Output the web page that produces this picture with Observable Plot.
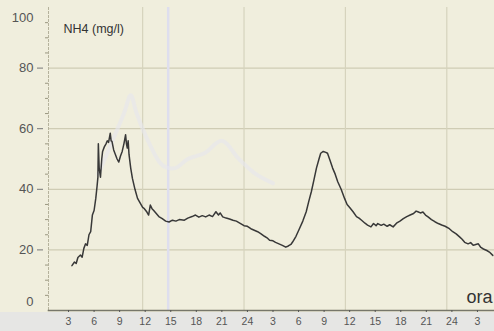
<!DOCTYPE html>
<html>
<head>
<meta charset="utf-8">
<script src="https://cdn.jsdelivr.net/npm/d3@7"></script>
<script src="https://cdn.jsdelivr.net/npm/@observablehq/plot@0.6"></script>
<style>
  html, body { margin: 0; padding: 0; }
  body { width: 494px; height: 331px; overflow: hidden;
    background: linear-gradient(to bottom, #f0eedd 0, #f0eedd 312px, #e6e6e4 312px); }
  svg { display: block; }
</style>
</head>
<body>
<div id="chart"></div>
<script>
// Hours elapsed since midnight of day 1, and NH4 concentration (mg/l)
const hours = [3.4,3.7,3.9,4.1,4.4,4.6,4.8,5.0,5.2,5.4,5.6,5.8,6.0,6.2,6.35,6.45,6.5,6.6,6.75,6.9,7.0,7.2,7.4,7.55,7.7,7.9,8.0,8.1,8.3,8.5,8.7,8.9,9.1,9.3,9.5,9.7,9.8,9.9,10.0,10.1,10.3,10.5,10.8,11.1,11.4,11.7,11.9,12.2,12.4,12.6,12.8,13.0,13.3,13.6,14.0,14.4,14.8,15.2,15.6,16.0,16.6,17.0,17.5,17.9,18.3,18.7,19.1,19.5,19.9,20.3,20.6,20.8,21.1,21.5,21.9,22.3,22.7,23.2,23.6,24.0,24.4,24.8,25.2,25.6,26.0,26.3,26.6,27.0,27.3,27.7,28.1,28.5,28.8,29.1,29.3,29.7,30.1,30.5,30.9,31.2,31.5,31.8,32.1,32.4,32.6,32.9,33.2,33.4,33.7,34.0,34.3,34.6,35.0,35.4,35.7,36.0,36.4,36.8,37.1,37.4,37.8,38.1,38.5,38.8,39.1,39.3,39.7,40.0,40.4,40.7,41.1,41.5,41.9,42.3,42.7,43.1,43.5,43.8,44.0,44.3,44.6,44.9,45.2,45.6,46.0,46.4,46.8,47.2,47.7,48.1,48.5,48.9,49.2,49.5,49.9,50.2,50.5,50.8,51.1,51.4,51.7,52.1,52.4,52.8];
const nh4 = [14.8,16.0,15.5,17.5,18.3,17.6,20.5,22,21.5,25,26,31.5,33,37,41,44,55,47,44,50,52.5,54,55,56,55.5,58.5,56,55.8,53,51.5,50,49,51,52.5,55,58,55,53.6,56,51.5,47,43.6,40,37,35.5,34,33.6,32.5,31.5,34.8,33.6,33,32,31,30.3,29.5,29.2,29.8,29.5,30,29.8,30.5,31,31.5,30.8,31.3,30.9,31.5,31,32.6,31.5,32.2,30.9,30.5,30.2,29.8,29.5,28.7,28,27.8,27,26.5,26,25.3,24.5,24,23.2,23,22.5,22,21.5,20.9,21.3,21.8,22.6,24.5,27,29.5,32.6,36,39.2,43,47,50,51.9,52.5,52.2,51.9,49.5,47,45,42.5,40,37,35,34,32.6,31,30.5,29.8,28.8,28.2,27.6,28.7,28,28.7,28.1,28.5,27.8,28.3,27.6,28.8,29.5,30.3,31,31.5,32,32.8,32.6,32.2,32.5,31.5,30.9,30,29.3,28.7,28.2,27.8,27,26,25.3,24.3,23.5,22.5,22,22.4,21.5,21.8,22,20.8,20.3,19.8,19.3,18.2];

// faint show-through trace visible behind the main curve
const ghostHours = [6.5,8.0,9.5,10.3,11.0,12.5,14.0,15.5,17.0,19.0,21.0,23.0,25.0,27.0];
const ghostValues = [45,55,65,71,65,55,48,47,50,52,56,50,45,42];

const xTicks = [3,6,9,12,15,18,21,24,27,30,33,36,39,42,45,48,51];
const xTickLabels = ["3","6","9","12","15","18","21","24","3","6","9","12","15","18","21","24","3"];
const yTicks = [20,40,60,80];
const yMinorTicks = [5,10,15,25,30,35,45,50,55,65,70,75,85,90,95];
const gridHours = [11.7,23.6,35.5,47.4];
const markerHours = [14.7];
const yTitle = "NH4 (mg/l)";
const xTitle = "ora";

const data = hours.map((h, i) => ({h, v: nh4[i]}));
const ghost = ghostHours.map((h, i) => ({h, v: ghostValues[i]}));
const labelOf = new Map(xTicks.map((t, i) => [t, xTickLabels[i]]));

const chart = Plot.plot({
  width: 494,
  height: 331,
  marginLeft: 48,
  marginRight: 0,
  marginTop: 7,
  marginBottom: 21,
  style: {background: "transparent", fontFamily: "'Liberation Sans', Arial, sans-serif", overflow: "visible"},
  x: {domain: [0.65, 53]},
  y: {domain: [0, 100]},
  marks: [
    Plot.gridY(yTicks, {stroke: "#cfccb4", strokeOpacity: 1, strokeWidth: 1.2}),
    Plot.gridX(gridHours, {stroke: "#d6d3bd", strokeOpacity: 1, strokeWidth: 1.2}),
    Plot.ruleX(markerHours, {y1: 0, y2: 100, stroke: "#dedeee", strokeWidth: 2.5}),
    Plot.line(ghost, {x: "h", y: "v", curve: "catmull-rom", stroke: "#e6e6ee", strokeWidth: 4, strokeOpacity: 0.6}),
    Plot.line(data, {x: "h", y: "v", stroke: "#383838", strokeWidth: 1.5}),
    Plot.frame({anchor: "left", stroke: "#b5b29c", strokeDasharray: "2,2"}),
    Plot.frame({anchor: "bottom", stroke: "#77776a", strokeWidth: 1.6}),
    Plot.axisY(yMinorTicks, {tickSize: 3, text: null, stroke: "#9a9780", label: null}),
    Plot.axisY(yTicks, {tickSize: 6, tickPadding: 4, dx: -5, fontSize: 13, fill: "#555", stroke: "#777", label: null}),
    Plot.axisY([100], {tickSize: 0, tickPadding: 15, dy: 10, fontSize: 13, fill: "#555", label: null}),
    Plot.axisY([0], {tickSize: 0, tickPadding: 15, dy: -9, fontSize: 13, fill: "#555", label: null}),
    Plot.axisX(xTicks, {tickSize: 2, tickPadding: 5, fontSize: 10.5, fill: "#555", stroke: "#555", tickFormat: d => labelOf.get(d), label: null}),
    Plot.text([yTitle], {frameAnchor: "top-left", dx: 15, dy: 17, fontSize: 12.5, fill: "#333", textAnchor: "start"}),
    Plot.text([xTitle], {frameAnchor: "bottom-right", dx: -2, dy: -8, fontSize: 18, fill: "#333", textAnchor: "end", lineAnchor: "bottom"})
  ]
});
document.getElementById("chart").appendChild(chart);
</script>
</body>
</html>
